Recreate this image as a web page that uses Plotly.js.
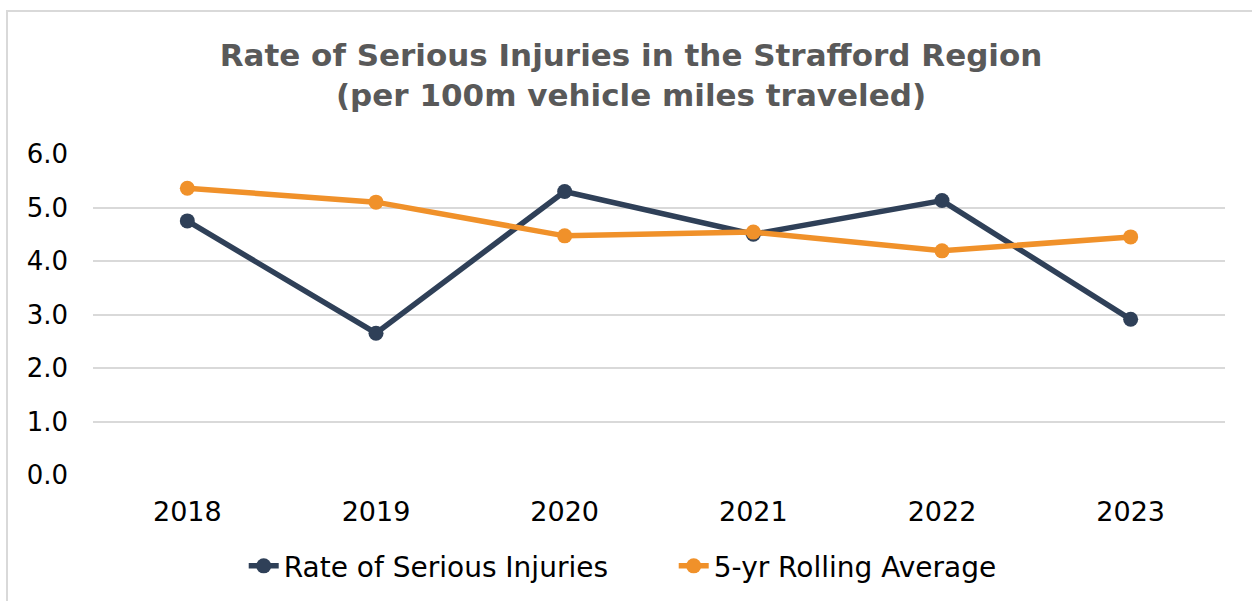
<!DOCTYPE html>
<html>
<head>
<meta charset="utf-8">
<script src="https://cdn.plot.ly/plotly-3.0.1.min.js"></script>
<style>
  html, body { margin: 0; padding: 0; background: #ffffff; overflow: hidden; }
  #frame { position: absolute; left: 6px; top: 10px; width: 1260px; height: 620px; border: 2px solid #d9d9d9; box-sizing: border-box; }
  #chart { position: absolute; left: 0; top: 0; width: 1252px; height: 601px; }
</style>
</head>
<body>
<div id="frame"></div>
<div id="chart"></div>
<script>
const years = ["2018", "2019", "2020", "2021", "2022", "2023"];
const rateSeriousInjuries = [4.75, 2.65, 5.30, 4.50, 5.13, 2.91];
const rollingAverage5yr = [5.36, 5.10, 4.47, 4.54, 4.19, 4.45];
const yTickVals = [0, 1, 2, 3, 4, 5, 6];
const yTickText = ["0.0", "1.0", "2.0", "3.0", "4.0", "5.0", "6.0"];

const navy = "#2f4058";
const orange = "#f0912a";

const traces = [
  {
    x: years, y: rateSeriousInjuries, name: "Rate of Serious Injuries",
    type: "scatter", mode: "lines+markers",
    line: { color: navy, width: 5.5 },
    marker: { color: navy, size: 15 }
  },
  {
    x: years, y: rollingAverage5yr, name: "5-yr Rolling Average",
    type: "scatter", mode: "lines+markers",
    line: { color: orange, width: 5.5 },
    marker: { color: orange, size: 15 }
  }
];

const layout = {
  width: 1252, height: 601,
  paper_bgcolor: "rgba(0,0,0,0)", plot_bgcolor: "rgba(0,0,0,0)",
  margin: { l: 93, r: 27, t: 154, b: 126, autoexpand: false },
  font: { family: "DejaVu Sans, Verdana, sans-serif", color: "#000000" },
  title: {
    text: "<b>Rate of Serious Injuries in the Strafford Region<br>(per 100m vehicle miles traveled)</b>",
    font: { family: "DejaVu Sans, Verdana, sans-serif", size: 31, color: "#595959" },
    x: 0.504, xanchor: "center", y: 1 - 66 / 601, yanchor: "top"
  },
  xaxis: {
    type: "category", range: [-0.5, 5.5], automargin: false,
    showgrid: false, zeroline: false, showline: false, ticks: "",
    ticklabelstandoff: 18,
    tickfont: { size: 27, color: "#000000" }
  },
  yaxis: {
    range: [0, 6], tickvals: yTickVals, ticktext: yTickText, automargin: false,
    showgrid: true, gridcolor: "#d9d9d9", gridwidth: 2,
    zeroline: false, showline: false, ticks: "", ticklabelstandoff: 24,
    tickfont: { size: 26, color: "#000000" }
  },
  showlegend: true,
  legend: {
    orientation: "h", x: 0.513, xanchor: "center", y: -0.206, yanchor: "top",
    font: { size: 28, color: "#000000" }, itemwidth: 30, entrywidth: 385
  }
};

Plotly.newPlot("chart", traces, layout, { displayModeBar: false, staticPlot: true });
</script>
</body>
</html>
